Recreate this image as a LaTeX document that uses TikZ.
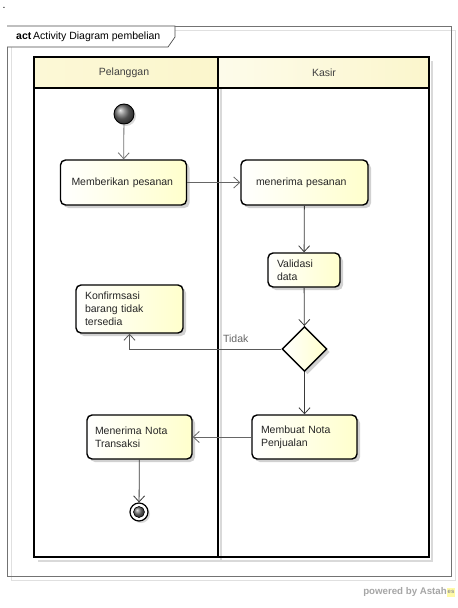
\documentclass[tikz,border=0pt]{standalone}
\usepackage{fontspec}
\setmainfont{Liberation Sans}
\usetikzlibrary{shadows,arrows.meta,shapes.geometric}
\definecolor{boxyel}{HTML}{FFFFCC}
\definecolor{hdryel}{HTML}{FBF6CC}
\definecolor{conn}{HTML}{3A3A3A}
\tikzset{
  act/.style={draw=black, line width=1.4pt, rounded corners=5pt,
    left color=white, right color=boxyel,
    drop shadow={shadow xshift=3pt, shadow yshift=-3pt, fill=black!18, opacity=1},
    font=\fontsize{10.5}{13}\selectfont, align=left, anchor=center,
    inner ysep=2pt, text=black!85},
  flow/.style={draw=conn, line width=0.8pt, -{Straight Barb[length=6pt, width=11pt]}},
  lanehdr/.style={font=\fontsize{10.5}{13}\selectfont, text=black!75},
}
\begin{document}
\begin{tikzpicture}[x=1pt,y=-1pt]
\useasboundingbox (0,0) rectangle (458,608);
\fill[white] (0,0) rectangle (458,608);
% stray mark
\node[font=\fontsize{10.5}{13}\selectfont, inner sep=1pt] (dot) at (4,8) {.};
% outer frame
\draw[black!12, line width=0.8pt] (11,30) rectangle (455,580);
\draw[black!55, line width=0.8pt] (7,26) rectangle (451,576);
% title tab
\draw[black!70, line width=0.7pt, fill=white] (7,26) -- (175,26) -- (175,37) -- (168,47) -- (7,47);
\node[anchor=west, font=\fontsize{10.5}{13}\selectfont, inner sep=0pt] (title) at (16,37) {\textbf{act}\,Activity Diagram pembelian};
% swimlane shadows
\draw[black!15, line width=1.2pt] (221,61) -- (221,561);
\draw[black!15, line width=1.2pt] (432,61) -- (432,561) -- (38,561);
% swimlane headers
\fill[left color=hdryel!80, right color=hdryel] (34,57) rectangle (218,88);
\fill[left color=hdryel!40, right color=hdryel] (218,57) rectangle (429,88);
\draw[black, line width=1.4pt] (34,57) rectangle (429,557);
\draw[black, line width=1.4pt] (34,88) -- (429,88);
\draw[black, line width=1.4pt] (218,57) -- (218,557);
\node[lanehdr] (lane1) at (124,73) {Pelanggan};
\node[lanehdr] (lane2) at (324,73) {Kasir};
% initial node
\fill[black!15] (126,116) circle (10);
\node[circle, minimum size=20pt, inner sep=0pt, draw=black, line width=0.9pt, shading=ball, ball color=black!55] (start) at (124,114) {};
% activities
\node[act, text width=104pt, inner xsep=11pt, minimum height=45pt] (a1) at (123.5,182.5) {Memberikan pesanan};
\node[act, text width=97pt, inner xsep=15pt, minimum height=45pt] (a2) at (304.5,182.5) {menerima pesanan};
\node[act, text width=54pt, inner xsep=9pt, minimum height=34pt] (a3) at (304,270) {Validasi\\data};
\node[diamond, draw=black, line width=1.4pt, left color=white, right color=boxyel,
  minimum width=45pt, minimum height=45pt, inner sep=0pt,
  drop shadow={shadow xshift=3pt, shadow yshift=-3pt, fill=black!18, opacity=1}] (dec) at (304.5,349) {};
\node[act, text width=89pt, inner xsep=9pt, minimum height=48pt] (a4) at (129.5,309) {Konfirmsasi\\barang tidak\\tersedia};
\node[act, text width=87pt, inner xsep=9pt, minimum height=44pt] (a5) at (304.5,437) {Membuat Nota\\Penjualan};
\node[act, text width=89pt, inner xsep=8pt, minimum height=44pt] (a6) at (139.5,437) {Menerima Nota\\Transaksi};
% final node
\fill[black!15] (141,514) circle (9);
\node[circle, minimum size=18pt, inner sep=0pt, draw=black, line width=1.2pt, fill=white] (end) at (139,512) {};
\node[circle, minimum size=11pt, inner sep=0pt, draw=black, line width=0.6pt, shading=ball, ball color=black!55] (endin) at (139,512) {};
% flows
\draw[flow, draw=black!55] (start) -- (a1);
\draw[flow, draw=black!60] (a1) -- (a2);
\draw[flow] (a2) -- (a3);
\draw[flow] (a3) -- (dec);
\draw[flow, draw=black!65] (dec.west) -| (a4.south) node[pos=0.15, above, font=\fontsize{10.5}{13}\selectfont, text=black!60, yshift=3pt] (lbl) {Tidak};
\draw[flow] (dec) -- (a5);
\draw[flow, draw=black!60] (a5) -- (a6);
\draw[flow] (a6) -- (end);
% footer
\node[anchor=east, font=\fontsize{9.7}{12}\bfseries, text=black!35, inner sep=0pt] (powered) at (447,592) {powered by Astah};
\node[anchor=west, fill=yellow!35, text=black!40, font=\fontsize{6}{7}\bfseries, inner sep=0.5pt, minimum height=9pt] (logo) at (powered.east) {es};
\end{tikzpicture}
\end{document}
